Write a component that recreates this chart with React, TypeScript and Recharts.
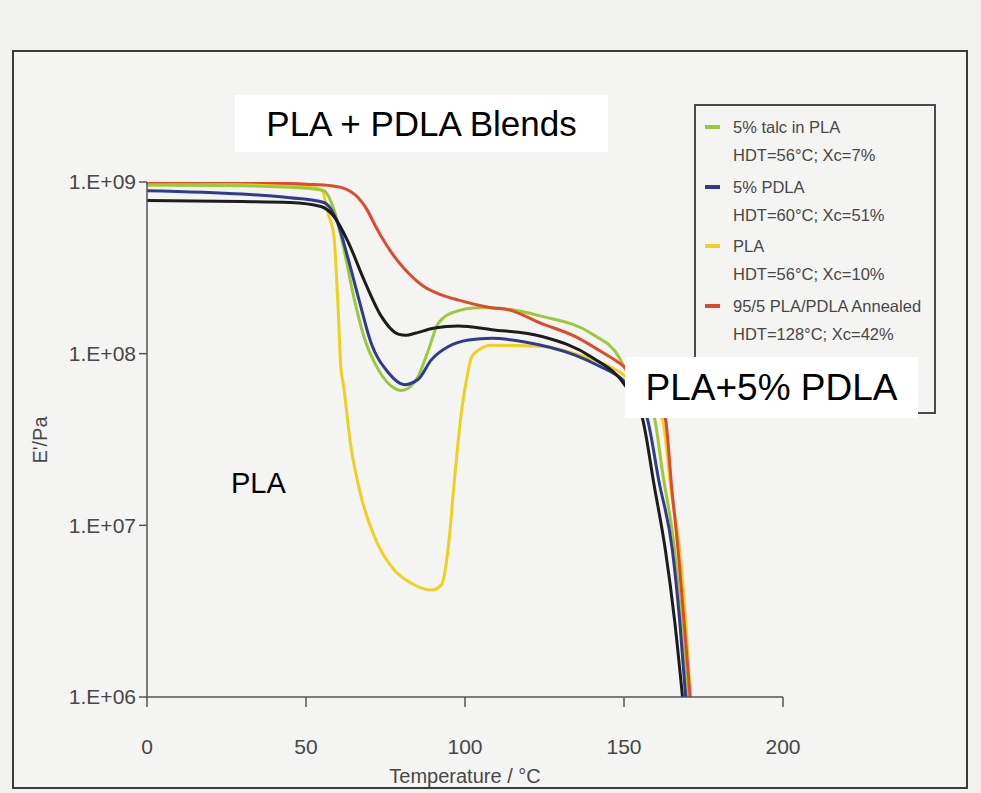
import React from "react";
import { LineChart, Line, XAxis, YAxis } from "recharts";

// Temperature (°C) and storage modulus E' (Pa)
const talcPLA: [number, number][] = [
  [0, 9.6e8], [30, 9.5e8], [50, 9.2e8], [55.6, 8.9e8], [58.8, 6.9e8], [62, 4.0e8], [65, 2.15e8],
  [68.2, 1.26e8], [72.7, 8.1e7], [77.7, 6.3e7], [80, 6.1e7], [82.2, 6.3e7], [85.3, 7.4e7], [88.5, 1.05e8],
  [91.6, 1.5e8], [96.7, 1.75e8], [104.3, 1.85e8], [108.4, 1.85e8], [124.2, 1.65e8], [140, 1.3e8],
  [148.5, 9.5e7], [150.4, 8.1e7], [155, 6.3e7], [159.6, 4.2e7], [162, 2.1e7], [165.9, 7.2e6],
  [168, 2.8e6], [170, 1.0e6],
];
const pdla5: [number, number][] = [
  [0, 8.9e8], [30, 8.5e8], [45, 8.1e8], [55.6, 7.6e8], [60, 5.75e8], [63.2, 3.6e8], [66.4, 2.15e8],
  [70.5, 1.15e8], [75.8, 7.8e7], [80.9, 6.6e7], [85.3, 7.1e7], [89.4, 9.2e7], [94.8, 1.1e8],
  [101.1, 1.2e8], [108.4, 1.23e8], [118.8, 1.17e8], [134.6, 9.8e7], [142, 8.5e7], [150.4, 6.8e7],
  [154, 5.5e7], [157.3, 4.2e7], [161, 1.8e7], [165.2, 7.2e6], [167.5, 2.8e6], [169.4, 1.0e6],
];
const pla: [number, number][] = [
  [0, 9.6e8], [30, 9.6e8], [50, 9.4e8], [55, 9.0e8], [56.9, 6.6e8], [58.8, 4.8e8], [60, 2.0e8],
  [61, 8.1e7], [61.6, 6.9e7], [64.1, 2.9e7], [67.3, 1.48e7], [71.4, 8.7e6], [77.7, 5.5e6],
  [83.1, 4.6e6], [89.4, 4.2e6], [92.6, 4.5e6], [94.8, 7.6e6], [96.7, 1.86e7], [98.9, 4.6e7],
  [100.5, 7.1e7], [102, 9.5e7], [104.3, 1.05e8], [108.4, 1.12e8], [124.2, 1.1e8], [134.6, 1.0e8],
  [142, 9.0e7], [150.4, 7.4e7], [156, 5.8e7], [162, 4.2e7], [165, 1.5e7], [167.5, 7.2e6],
  [169.5, 2.6e6], [170.9, 1.0e6],
];
const annealed: [number, number][] = [
  [0, 1.0e9], [30, 1.0e9], [50, 9.7e8], [58, 9.5e8], [61, 9.3e8], [64, 8.8e8], [66.4, 8.1e8],
  [69, 7.0e8], [71.4, 5.75e8], [74, 4.7e8], [76.8, 3.9e8], [79.5, 3.35e8], [82.2, 2.95e8],
  [87.2, 2.45e8], [92.6, 2.2e8], [98, 2.05e8], [108.4, 1.85e8], [113.7, 1.8e8], [124, 1.5e8],
  [134.6, 1.26e8], [142, 1.05e8], [150.4, 8.3e7], [156, 6.6e7], [160, 5.5e7], [163, 4.2e7],
  [165, 1.66e7], [167, 7.2e6], [169, 2.6e6], [170.8, 1.0e6],
];
const blend5: [number, number][] = [
  [0, 7.8e8], [30, 7.7e8], [45, 7.6e8], [54.7, 7.2e8], [58.8, 6.3e8], [63.2, 4.5e8], [68.2, 2.7e8],
  [73.6, 1.66e8], [79, 1.30e8], [81.5, 1.28e8], [84, 1.31e8], [90.4, 1.41e8], [97.9, 1.45e8], [108.4, 1.38e8],
  [124.2, 1.26e8], [140, 9.5e7], [150.4, 6.5e7], [155.8, 4.2e7], [159.5, 1.7e7], [163, 7.2e6],
  [166, 2.7e6], [168.4, 1.0e6],
];

const xTicks = [0, 50, 100, 150, 200];
const yTicks = [1e6, 1e7, 1e8, 1e9];
const yTickLabels = ["1.E+06", "1.E+07", "1.E+08", "1.E+09"];

const legendItems = [
  { name: "5% talc in PLA", note: "HDT=56°C; Xc=7%", color: "#9cc93a" },
  { name: "5% PDLA", note: "HDT=60°C; Xc=51%", color: "#2f3b8f" },
  { name: "PLA", note: "HDT=56°C; Xc=10%", color: "#f0d01e" },
  { name: "95/5 PLA/PDLA Annealed", note: "HDT=128°C; Xc=42%", color: "#dd4a2e" },
];

const toRows = (pts: [number, number][]) => pts.map(([t, e]) => ({ t, e }));

const FONT = "'Liberation Sans', Arial, sans-serif";
const TXT = "#474747";

export default function App() {
  const series = [
    { key: "pla", data: toRows(pla), color: "#f0d01e" },
    { key: "talc", data: toRows(talcPLA), color: "#9cc93a" },
    { key: "pdla", data: toRows(pdla5), color: "#2f3b8f" },
    { key: "ann", data: toRows(annealed), color: "#dd4a2e" },
    { key: "blend", data: toRows(blend5), color: "#1c1c1c" },
  ];
  return (
    <div style={{ position: "absolute", left: 0, top: 0, width: 981, height: 793, background: "#f1f1ef", fontFamily: FONT, overflow: "hidden" }}>
      <div style={{ position: "absolute", left: 12, top: 50, width: 956, height: 739, border: "2px solid #3a3a3a", boxSizing: "border-box", background: "#f4f4f2" }} />
      <div style={{ position: "absolute", left: 0, top: 0 }}>
        <LineChart width={981} height={793} margin={{ top: 182, right: 198, bottom: 36, left: 0 }}>
          <XAxis
            type="number"
            dataKey="t"
            domain={[0, 200]}
            ticks={xTicks}
            allowDataOverflow
            height={60}
            tickSize={10}
            tickMargin={32}
            stroke="#555"
            strokeWidth={1.5}
            tick={{ fill: TXT, fontSize: 21, fontFamily: FONT }}
          />
          <YAxis
            type="number"
            scale="log"
            dataKey="e"
            domain={[1e6, 1e9]}
            ticks={yTicks}
            allowDataOverflow
            width={147}
            tickSize={8}
            tickMargin={3}
            stroke="#555"
            strokeWidth={1.5}
            tick={{ fill: TXT, fontSize: 21, fontFamily: FONT }}
            tickFormatter={(v: number) => yTickLabels[yTicks.indexOf(v)] ?? String(v)}
          />
          {series.map((s) => (
            <Line
              key={s.key}
              data={s.data}
              dataKey="e"
              type="monotone"
              stroke={s.color}
              strokeWidth={3}
              dot={false}
              activeDot={false}
              isAnimationActive={false}
            />
          ))}
        </LineChart>
      </div>

      {/* axis titles */}
      <div style={{ position: "absolute", left: 40, top: 440, transform: "translate(-50%, -50%) rotate(-90deg)", fontSize: 20, color: TXT, whiteSpace: "nowrap" }}>
        E'/Pa
      </div>
      <div style={{ position: "absolute", left: 465, top: 776, transform: "translate(-50%, -50%)", fontSize: 20, color: TXT, whiteSpace: "nowrap" }}>
        Temperature / °C
      </div>

      {/* legend */}
      <div style={{ position: "absolute", left: 694, top: 104, width: 242, height: 310, border: "2px solid #4a4a4a", boxSizing: "border-box", background: "#f4f4f2" }} />
      {legendItems.map((it, i) => (
        <React.Fragment key={it.name}>
          <div style={{ position: "absolute", left: 705, top: 125 + i * 59.5, width: 15, height: 4, background: it.color }} />
          <div style={{ position: "absolute", left: 733, top: 127 + i * 59.5, transform: "translateY(-50%)", fontSize: 16.5, color: TXT, whiteSpace: "nowrap" }}>
            {it.name}
          </div>
          <div style={{ position: "absolute", left: 733, top: 155 + i * 59.5, transform: "translateY(-50%)", fontSize: 16.5, color: TXT, whiteSpace: "nowrap" }}>
            {it.note}
          </div>
        </React.Fragment>
      ))}

      {/* annotations */}
      <div style={{ position: "absolute", left: 235, top: 95, width: 373, height: 57, background: "#ffffff", display: "flex", alignItems: "center", justifyContent: "center", fontSize: 35, color: "#000" }}>
        PLA + PDLA Blends
      </div>
      <div style={{ position: "absolute", left: 625, top: 357, width: 293, height: 61, background: "#ffffff", display: "flex", alignItems: "center", justifyContent: "center", fontSize: 37, color: "#000" }}>
        PLA+5% PDLA
      </div>
      <div style={{ position: "absolute", left: 231, top: 483, transform: "translateY(-50%)", fontSize: 29, color: "#000" }}>
        PLA
      </div>
    </div>
  );
}
